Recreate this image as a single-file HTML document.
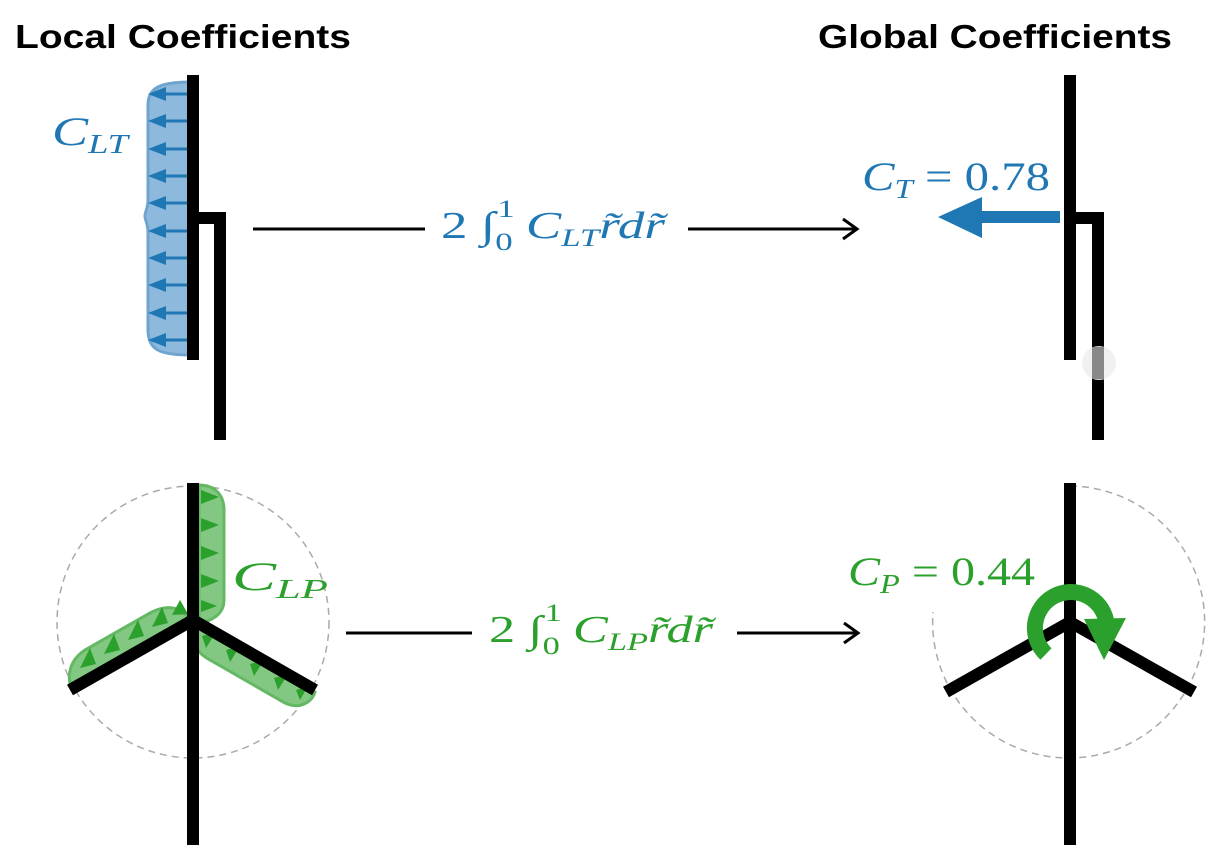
<!DOCTYPE html>
<html><head><meta charset="utf-8"><style>
html,body{margin:0;padding:0;background:#fff}
svg{display:block}
.t{font-family:"Liberation Sans","DejaVu Sans",sans-serif;font-weight:bold;font-size:33px;fill:#000}
.m{font-family:"Liberation Serif","DejaVu Serif",serif;font-style:italic}
</style></head><body>
<svg width="1226" height="866" viewBox="0 0 1226 866" xmlns="http://www.w3.org/2000/svg">
<text class="t" x="15" y="48" textLength="336" lengthAdjust="spacingAndGlyphs">Local Coefficients</text>
<text class="t" x="818" y="48" textLength="354" lengthAdjust="spacingAndGlyphs">Global Coefficients</text>

<!-- top-left blue distribution -->
<path d="M190,82 C160,82 148,88 148,105 L148,200 C148,208 145,212 145,216 C145,220 148,224 148,232 L148,330 C148,350 160,355 190,355 Z" fill="#8db9dc" stroke="#6fa4d0" stroke-width="3"/>
<g stroke="#1f77b4" stroke-width="3" fill="#1f77b4">
<g id="ar">
<line x1="190" y1="94" x2="160" y2="94"/><polygon points="148,94 166,87 166,101" stroke="none"/>
</g>
<use href="#ar" y="27"/><use href="#ar" y="55"/><use href="#ar" y="82"/><use href="#ar" y="109"/>
<use href="#ar" y="137"/><use href="#ar" y="164"/><use href="#ar" y="191"/><use href="#ar" y="219"/><use href="#ar" y="246"/>
</g>
<rect x="187" y="75" width="12" height="285" fill="#000"/>
<path d="M193,218 H220 V440" fill="none" stroke="#000" stroke-width="12"/>
<text class="m" x="52" y="145" font-size="40" fill="#1f77b4" textLength="76" lengthAdjust="spacingAndGlyphs">C<tspan font-size="27" dy="8">LT</tspan></text>

<!-- top arrow -->
<line x1="253" y1="229" x2="425" y2="229" stroke="#000" stroke-width="3"/>
<line x1="688" y1="229" x2="855" y2="229" stroke="#000" stroke-width="3"/>
<path d="M843,219 L857,229 L843,239" fill="none" stroke="#000" stroke-width="3"/>
<text class="m" x="441" y="238" font-size="38" fill="#1f77b4" textLength="224" lengthAdjust="spacingAndGlyphs"><tspan font-style="normal">2</tspan> ∫<tspan font-size="25" font-style="normal" dy="12">0</tspan><tspan font-size="25" font-style="normal" dx="-11" dy="-33">1</tspan><tspan dy="21" dx="8">C</tspan><tspan font-size="25" dy="8">LT</tspan><tspan dy="-8">r̃dr̃</tspan></text>

<!-- top-right -->
<text class="m" x="862" y="190" font-size="40" fill="#1f77b4" textLength="188" lengthAdjust="spacingAndGlyphs">C<tspan font-size="27" dy="8">T</tspan><tspan font-style="normal" dy="-8"> = 0.78</tspan></text>
<rect x="980" y="211" width="80" height="12" fill="#1f77b4"/>
<polygon points="938,217 982,197 982,238" fill="#1f77b4"/>
<rect x="1064" y="75" width="12" height="285" fill="#000"/>
<path d="M1070,218 H1098 V440" fill="none" stroke="#000" stroke-width="12"/>
<circle cx="1099" cy="363" r="17" fill="#f0f0f0" opacity="0.9"/>
<rect x="1092" y="347" width="12" height="32" fill="#888"/>

<!-- bottom-left -->
<circle cx="193" cy="622" r="136" fill="none" stroke="#aaa" stroke-width="1.5" stroke-dasharray="7,5"/>
<g fill="#7cc57c" stroke="#5cb55c" stroke-width="3" opacity="0.95">
<path d="M199,485 C215,485 224,495 224,510 L224,600 C224,615 210,622 199,622 Z"/>
<path d="M190,620 C180,605 165,605 150,613 L85,650 C70,660 66,675 72,690 Z"/>
<path d="M195,624 C190,640 195,652 210,660 L285,703 C300,710 312,702 315,692 Z"/>
</g>
<g fill="#2ca02c">
<polygon points="201,490 219,497 201,504"/><polygon points="201,518 219,525 201,532"/><polygon points="201,546 219,553 201,560"/><polygon points="201,574 219,581 201,588"/><polygon points="201,600 217,606 201,612"/>
<polygon points="80,668 90,648 96,664"/><polygon points="104,654 114,634 120,650"/><polygon points="128,640 138,620 144,636"/><polygon points="152,627 162,607 168,623"/><polygon points="172,615 180,600 188,614"/>
<polygon points="202,636 216,632 206,648"/><polygon points="226,650 240,646 230,662"/><polygon points="250,664 264,660 254,676"/><polygon points="274,678 288,674 278,690"/><polygon points="296,690 308,686 300,700"/>
</g>
<g stroke="#000" stroke-width="12" fill="none">
<line x1="193" y1="483" x2="193" y2="845"/>
<polyline points="70,690 193,620 315,690"/>
</g>
<text class="m" x="232" y="590" font-size="40" fill="#2ca02c" textLength="96" lengthAdjust="spacingAndGlyphs">C<tspan font-size="27" dy="8">LP</tspan></text>

<!-- bottom arrow -->
<line x1="346" y1="633" x2="472" y2="633" stroke="#000" stroke-width="3"/>
<line x1="737" y1="633" x2="856" y2="633" stroke="#000" stroke-width="3"/>
<path d="M844,623 L858,633 L844,643" fill="none" stroke="#000" stroke-width="3"/>
<text class="m" x="489" y="642" font-size="38" fill="#2ca02c" textLength="224" lengthAdjust="spacingAndGlyphs"><tspan font-style="normal">2</tspan> ∫<tspan font-size="25" font-style="normal" dy="12">0</tspan><tspan font-size="25" font-style="normal" dx="-11" dy="-33">1</tspan><tspan dy="21" dx="8">C</tspan><tspan font-size="25" dy="8">LP</tspan><tspan dy="-8">r̃dr̃</tspan></text>

<!-- bottom-right -->
<path d="M1070,486 A136,136 0 1 1 933,612" fill="none" stroke="#aaa" stroke-width="1.5" stroke-dasharray="7,5"/>
<g stroke="#000" stroke-width="12" fill="none">
<line x1="1070" y1="483" x2="1070" y2="845"/>
<polyline points="946,692 1070,622 1194,692"/>
</g>
<path d="M1046,654 A36,36 0 1 1 1106,620" fill="none" stroke="#2ca02c" stroke-width="16"/>
<polygon points="1084,619 1126,618 1104,660" fill="#2ca02c"/>
<text class="m" x="848" y="585" font-size="40" fill="#2ca02c" textLength="187" lengthAdjust="spacingAndGlyphs">C<tspan font-size="27" dy="8">P</tspan><tspan font-style="normal" dy="-8"> = 0.44</tspan></text>
</svg>
</body></html>
